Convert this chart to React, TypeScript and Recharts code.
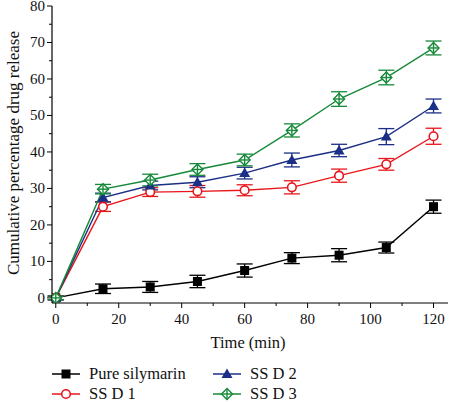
import React from "react";
import {
  LineChart, Line, XAxis, YAxis, ErrorBar, Legend,
} from "recharts";

const times = [0, 15, 30, 45, 60, 75, 90, 105, 120];

const pure = [0, 2.5, 3.0, 4.5, 7.5, 10.9, 11.7, 13.8, 25.0];
const pureErr = [0.5, 1.3, 1.5, 1.7, 1.8, 1.5, 1.8, 1.5, 1.8];
const ssd1 = [0, 25.0, 29.0, 29.2, 29.5, 30.3, 33.5, 36.6, 44.3];
const ssd1Err = [0.5, 1.3, 1.2, 1.6, 1.5, 1.8, 1.8, 1.6, 2.2];
const ssd2 = [0, 27.5, 30.8, 31.7, 34.2, 37.8, 40.4, 44.2, 52.6];
const ssd2Err = [0.5, 1.2, 1.2, 1.5, 1.6, 1.9, 1.7, 2.2, 1.9];
const ssd3 = [0, 29.8, 32.3, 35.2, 37.8, 45.9, 54.5, 60.4, 68.5];
const ssd3Err = [0.5, 1.3, 1.6, 1.6, 1.6, 1.8, 2.0, 2.0, 1.9];

const xTicks = [0, 10, 20, 30, 40, 50, 60, 70, 80, 90, 100, 110, 120];
const yTicks = [0, 5, 10, 15, 20, 25, 30, 35, 40, 45, 50, 55, 60, 65, 70, 75, 80];

const BLACK = "#000000";
const RED = "#e8161b";
const BLUE = "#1c2f86";
const GREEN = "#168a3a";
const FONT = "'Liberation Serif', serif";

const data = times.map((t, i) => ({
  time: t,
  pure: pure[i], pureErr: pureErr[i],
  ssd1: ssd1[i], ssd1Err: ssd1Err[i],
  ssd2: ssd2[i], ssd2Err: ssd2Err[i],
  ssd3: ssd3[i], ssd3Err: ssd3Err[i],
}));

const series = [
  { key: "pure", name: "Pure silymarin", color: BLACK, shape: "square" },
  { key: "ssd1", name: "SS D 1", color: RED, shape: "circle" },
  { key: "ssd2", name: "SS D 2", color: BLUE, shape: "triangle" },
  { key: "ssd3", name: "SS D 3", color: GREEN, shape: "diamond" },
];

function Marker({ cx, cy, shape, color }: any) {
  if (cx == null || cy == null) return null;
  if (shape === "square") {
    return <rect x={cx - 4.5} y={cy - 4.5} width={9} height={9} fill={color} />;
  }
  if (shape === "circle") {
    return <circle cx={cx} cy={cy} r={4.3} fill="#fff" stroke={color} strokeWidth={1.6} />;
  }
  if (shape === "triangle") {
    return <path d={`M${cx},${cy - 5.5} L${cx + 5.5},${cy + 4} L${cx - 5.5},${cy + 4} Z`} fill={color} />;
  }
  return (
    <g stroke={color} strokeWidth={1.4} fill="#fff">
      <path d={`M${cx},${cy - 5.5} L${cx + 5.5},${cy} L${cx},${cy + 5.5} L${cx - 5.5},${cy} Z`} />
      <line x1={cx} y1={cy - 5.5} x2={cx} y2={cy + 5.5} />
      <line x1={cx - 5.5} y1={cy} x2={cx + 5.5} y2={cy} />
    </g>
  );
}

function XTick({ x, y, payload }: any) {
  const major = payload.value % 20 === 0;
  return (
    <g>
      <line x1={x} y1={y} x2={x} y2={y + (major ? 5 : 3)} stroke={BLACK} strokeWidth={1} />
      {major && (
        <text x={x} y={y + 21} textAnchor="middle" style={{ fontFamily: FONT, fontSize: 15 }} fill="#111">
          {payload.value}
        </text>
      )}
    </g>
  );
}

function YTick({ x, y, payload }: any) {
  const major = payload.value % 10 === 0;
  return (
    <g>
      <line x1={x} y1={y} x2={x - (major ? 5 : 3)} y2={y} stroke={BLACK} strokeWidth={1} />
      {major && (
        <text x={x - 7} y={y + 5} textAnchor="end" style={{ fontFamily: FONT, fontSize: 15 }} fill="#111">
          {payload.value}
        </text>
      )}
    </g>
  );
}

function LegendBox() {
  const cols = [[series[0], series[1]], [series[2], series[3]]];
  const colX = [52, 213];
  return (
    <svg width={450} height={42} style={{ display: "block", overflow: "visible" }}>
      {cols.map((col, ci) =>
        col.map((s, ri) => {
          const y = 14 + ri * 20;
          const x0 = colX[ci];
          return (
            <g key={s.key}>
              <line x1={x0} y1={y} x2={x0 + 28} y2={y} stroke={s.color} strokeWidth={1.5} />
              <Marker cx={x0 + 14} cy={y} shape={s.shape} color={s.color} />
              <text x={x0 + 37} y={y + 5} style={{ fontFamily: FONT, fontSize: 16.5 }} fill="#111">{s.name}</text>
            </g>
          );
        })
      )}
    </svg>
  );
}

export default function App() {
  return (
    <div style={{ position: "absolute", left: 0, top: 0, width: 450, height: 402, background: "#fff" }}>
      <LineChart width={450} height={402} data={data} margin={{ top: 6, right: 2, left: 0, bottom: 0 }}>
        <XAxis
          dataKey="time"
          type="number"
          domain={[-1.2, 124.6]}
          ticks={xTicks}
          interval={0}
          allowDataOverflow
          height={57}
          tickSize={0}
          tickMargin={0}
          tickLine={false}
          axisLine={{ stroke: BLACK, strokeWidth: 1.2 }}
          tick={<XTick />}
          label={{
            content: () => (
              <text x={248} y={348} textAnchor="middle" style={{ fontFamily: FONT, fontSize: 16.5 }} fill="#111">
                Time (min)
              </text>
            ),
          }}
        />
        <XAxis xAxisId="top" orientation="top" dataKey="time" type="number" domain={[-1.2, 124.6]} height={0} tick={false} tickLine={false} axisLine={{ stroke: BLACK, strokeWidth: 1.2 }} />
        <YAxis
          type="number"
          domain={[-1.4, 80]}
          ticks={yTicks}
          interval={0}
          allowDataOverflow
          width={52}
          tickSize={0}
          tickMargin={0}
          tickLine={false}
          axisLine={{ stroke: BLACK, strokeWidth: 1.2 }}
          tick={<YTick />}
          label={{
            content: () => (
              <text
                x={19}
                y={153}
                transform="rotate(-90 19 153)"
                textAnchor="middle"
                style={{ fontFamily: FONT, fontSize: 17 }}
                fill="#111"
              >
                Cumulative percentage drug release
              </text>
            ),
          }}
        />
        <YAxis yAxisId="right" orientation="right" type="number" domain={[-1.4, 80]} width={0} tick={false} tickLine={false} axisLine={{ stroke: BLACK, strokeWidth: 1.2 }} />
        {series.map((s) => (
          <Line
            key={s.key}
            dataKey={s.key}
            name={s.name}
            stroke={s.color}
            strokeWidth={1.4}
            isAnimationActive={false}
            dot={(p: any) => <Marker key={`${s.key}-${p.index}`} cx={p.cx} cy={p.cy} shape={s.shape} color={s.color} />}
            activeDot={false}
          >
            <ErrorBar dataKey={`${s.key}Err`} width={8} stroke={s.color} strokeWidth={1.3} direction="y" isAnimationActive={false} />
          </Line>
        ))}
        <Legend verticalAlign="bottom" height={42} content={() => <LegendBox />} wrapperStyle={{ left: 0, width: 450, height: 42 }} />
      </LineChart>
    </div>
  );
}
